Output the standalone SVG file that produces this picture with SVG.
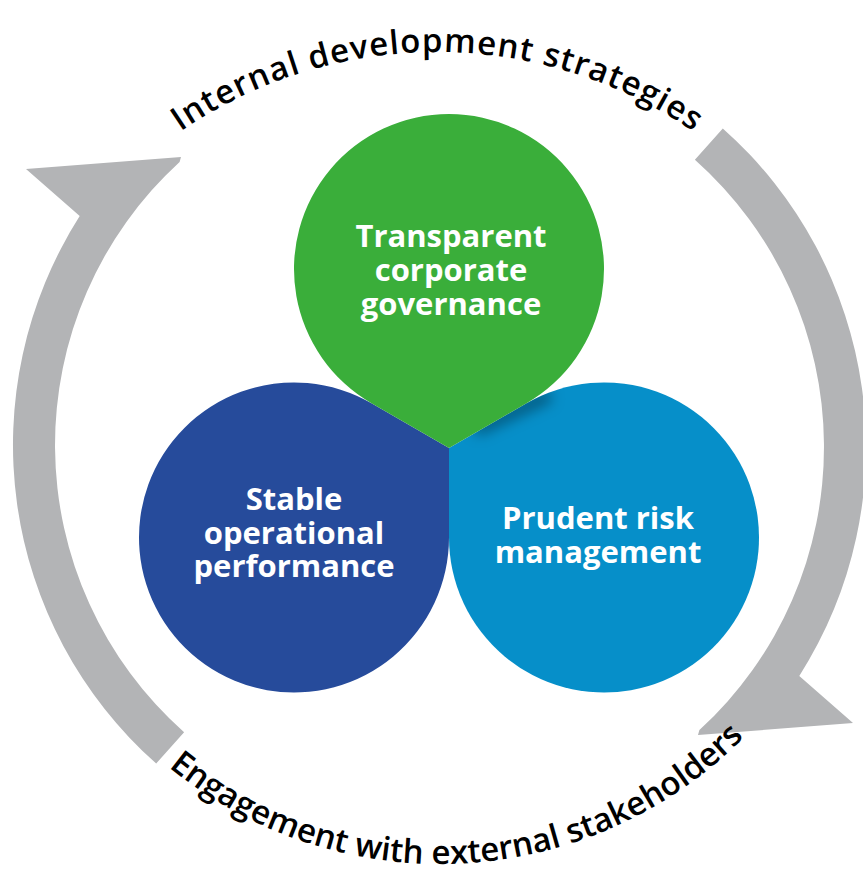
<svg xmlns="http://www.w3.org/2000/svg" width="863" height="874" viewBox="0 0 863 874">
  <defs>
    <style>
      .ring { fill: #b3b4b6; }
      .node-text { font-family: "Open Sans", "Liberation Sans", sans-serif; font-weight: 700; font-size: 31px; fill: #ffffff; text-anchor: middle; }
      .arc-text { font-family: "Open Sans", "DejaVu Sans", sans-serif; font-weight: 600; font-size: 33px; fill: #000000; }
    </style>
    <path id="arcTop" d="M 116.7 184.7 A 453 453 0 0 1 757.3 184.7"/>
    <path id="arcBottom" d="M 137.4 738.6 A 428 428 0 0 0 767.9 711.1"/>
    <path id="shapeGreen" d="M 449 448 L 371.5 403.25 A 155 155 0 1 1 526.5 403.25 Z"/>
    <path id="shapeDark" d="M 449 448 L 449 537.5 A 155 155 0 1 1 371.5 403.25 Z"/>
    <path id="shapeLight" d="M 449 448 L 526.5 403.25 A 155 155 0 1 1 449 537.5 Z"/>
    <clipPath id="clipDark"><use href="#shapeDark"/></clipPath>
    <clipPath id="clipLight"><use href="#shapeLight"/></clipPath>
    <filter id="soft" x="-50%" y="-50%" width="200%" height="200%">
      <feGaussianBlur stdDeviation="7"/>
    </filter>
  </defs>

  <rect width="863" height="874" fill="#ffffff"/>

  <g id="connectors">
    <path id="arrow-left" class="ring" d="M 156.2 763.6 L 184.1 732.2 A 384 384 0 0 1 179.6 161.9 L 181 157 L 26 169 L 79.7 216.1 A 426 426 0 0 0 156.2 763.6 Z"/>
    <path id="arrow-right" class="ring" transform="rotate(180 439.5 446)" d="M 156.2 763.6 L 184.1 732.2 A 384 384 0 0 1 179.6 161.9 L 181 157 L 26 169 L 79.7 216.1 A 426 426 0 0 0 156.2 763.6 Z"/>
  </g>

  <g id="node-operations">
    <use href="#shapeDark" fill="#264b9b"/>
    <g clip-path="url(#clipDark)">
      <line x1="452" y1="462" x2="452" y2="555" stroke="#000000" stroke-width="14" stroke-opacity="0.5" filter="url(#soft)"/>
    </g>
    <text class="node-text" x="294" y="510">Stable</text>
    <text class="node-text" x="294" y="544">operational</text>
    <text class="node-text" x="294" y="577">performance</text>
  </g>

  <g id="node-risk">
    <use href="#shapeLight" fill="#068fc9"/>
    <g clip-path="url(#clipLight)">
      <line x1="475" y1="430" x2="550" y2="395" stroke="#000000" stroke-width="12" stroke-opacity="0.4" filter="url(#soft)"/>
    </g>
    <text class="node-text" x="598" y="529">Prudent risk</text>
    <text class="node-text" x="598" y="563">management</text>
  </g>

  <g id="node-governance">
    <use href="#shapeGreen" fill="#3aae3a"/>
    <text class="node-text" x="451" y="247">Transparent</text>
    <text class="node-text" x="451" y="281">corporate</text>
    <text class="node-text" x="451" y="315">governance</text>
  </g>

  <g id="label-internal">
    <text class="arc-text"><textPath href="#arcTop" startOffset="50%" text-anchor="middle" textLength="545" lengthAdjust="spacing">Internal development strategies</textPath></text>
  </g>
  <g id="label-external">
    <text class="arc-text"><textPath href="#arcBottom" startOffset="50.5%" text-anchor="middle" textLength="632" lengthAdjust="spacing">Engagement with external stakeholders</textPath></text>
  </g>
</svg>
